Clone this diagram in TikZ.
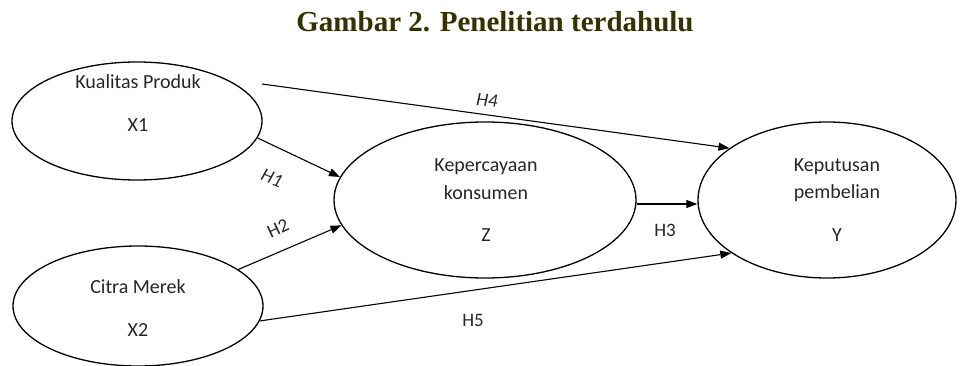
\documentclass[tikz,border=0pt]{standalone}
\usepackage{fontspec}
\setmainfont{Carlito}
\newfontfamily\titlefont{Liberation Serif}
\usetikzlibrary{shapes.geometric,arrows.meta}
\definecolor{titlecol}{RGB}{51,51,0}
\begin{document}
\begin{tikzpicture}[x=1pt,y=-1pt,
  construct/.style={draw, ellipse, line width=1.3pt, inner sep=0pt},
  lbl/.style={font=\fontsize{20}{24}\selectfont, inner sep=0pt, text=black!85},
  hyp/.style={font=\fontsize{19}{22}\selectfont, inner sep=0pt, text=black!85},
  arr/.style={line width=1.1pt, -{Triangle[length=11pt,width=8pt]}},
  plain/.style={line width=1.1pt}
  ]
\useasboundingbox (0,0) rectangle (963,366);
\node[text=titlecol, font=\titlefont\bfseries\fontsize{29}{32}\selectfont, inner sep=0pt] (title) at (495,22) {Gambar 2. Penelitian terdahulu};

% constructs
\node[construct, minimum width=250pt, minimum height=118pt] (x1) at (137,121) {};
\node[construct, minimum width=250pt, minimum height=120pt] (x2) at (138,306) {};
\node[construct, minimum width=302pt, minimum height=156pt] (z) at (485,200) {};
\node[construct, minimum width=258pt, minimum height=156pt] (y) at (827,200) {};

% texts
\node[lbl] (x1a) at (138,82) {Kualitas Produk};
\node[lbl] (x1b) at (138,125) {X1};
\node[lbl] (x2a) at (138,287) {Citra Merek};
\node[lbl] (x2b) at (138,330) {X2};
\node[lbl] (za) at (486,167) {Kepercayaan};
\node[lbl] (zb) at (486,193) {konsumen};
\node[lbl] (zc) at (486,235) {Z};
\node[lbl] (ya) at (837,167) {Keputusan};
\node[lbl] (yb) at (837,193) {pembelian};
\node[lbl] (yc) at (837,235) {Y};

% connectors
\coordinate (h4s) at (262,84);
\draw[arr] (x1.-8.4) -- (z.171.8);
\draw[arr] (x2.20.6) -- (z.-170.2);
\draw[arr] ([yshift=-4pt]z.east) -- ([yshift=-4pt]y.west);
\draw[arr] (h4s) -- (y.152);
\draw[arr] (x2.-7.8) -- (y.209.2);

% hypothesis labels
\node[hyp, rotate=-22, font=\fontsize{19}{22}\selectfont\itshape] (h1) at (272,178) {H1};
\node[hyp, rotate=25] (h2) at (278,228) {H2};
\node[hyp] (h3) at (665,230) {H3};
\node[hyp, rotate=-5, font=\fontsize{19}{22}\selectfont\itshape] (h4) at (487,100) {H4};
\node[hyp] (h5) at (473,320) {H5};
\end{tikzpicture}
\end{document}
